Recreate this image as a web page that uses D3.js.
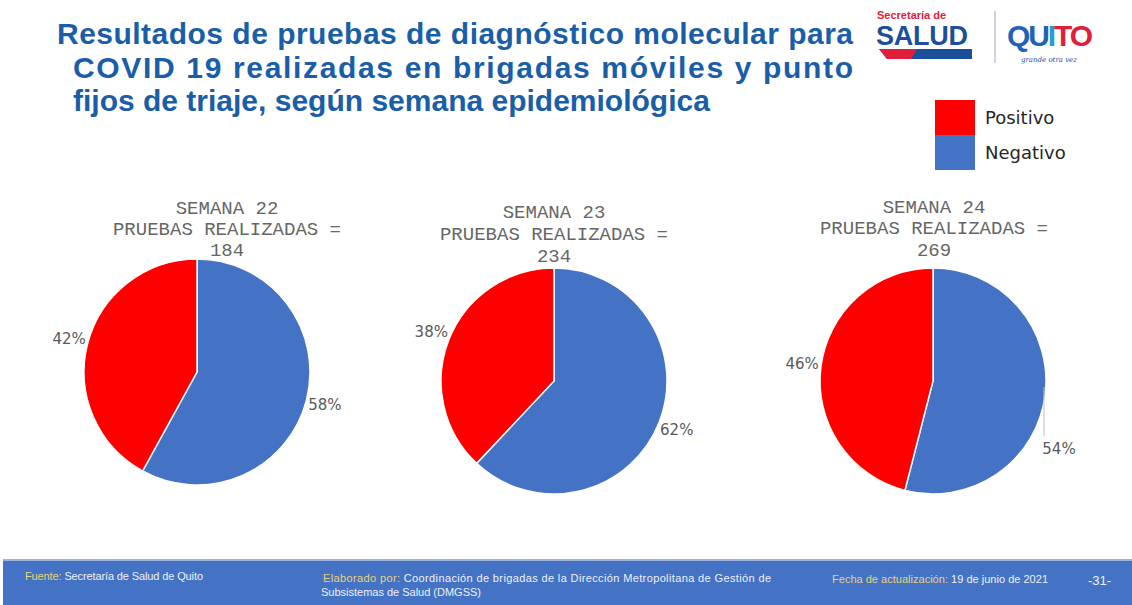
<!DOCTYPE html>
<html>
<head>
<meta charset="utf-8">
<script src="https://cdn.jsdelivr.net/npm/d3@7"></script>
<style>
  body { margin: 0; background: #fff; }
  svg { display: block; }
</style>
</head>
<body>
<div id="canvas"></div>
<script>
// datos
const semanas = ["SEMANA 22", "SEMANA 23", "SEMANA 24"];
const pruebas = [184, 234, 269];
const positivo = [42, 38, 46];
const negativo = [58, 62, 54];
const categorias = ["Negativo", "Positivo"];
const colores = ["#4472c4", "#ff0000"];

const width = 1132, height = 605;
const svg = d3.select("#canvas").append("svg")
  .attr("width", width)
  .attr("height", height);

// titulo
const titleColor = "#1a5ea8";
const titulo = [
  { t: "Resultados de pruebas de diagnóstico molecular para", x: 57, y: 44, w: 796 },
  { t: "COVID 19 realizadas en brigadas móviles y punto", x: 73, y: 78, w: 780 },
  { t: "fijos de triaje, según semana epidemiológica", x: 73, y: 111, w: null }
];
titulo.forEach(l => {
  const t = svg.append("text")
    .attr("x", l.x).attr("y", l.y)
    .style("font-family", "Liberation Sans, Arial, sans-serif")
    .style("font-weight", "bold")
    .style("font-size", "30px")
    .style("fill", titleColor)
    .text(l.t);
  if (l.w) t.attr("textLength", l.w).attr("lengthAdjust", "spacing");
});

// logo
const logo = svg.append("g").attr("transform", "translate(877,8)");
logo.append("text").attr("x", 0).attr("y", 11)
  .style("font-family", "Liberation Sans, Arial, sans-serif").style("font-weight", "bold")
  .style("font-size", "11px").style("fill", "#e0203a").text("Secretaría de");
logo.append("text").attr("x", -1).attr("y", 37)
  .style("font-family", "Liberation Sans, Arial, sans-serif").style("font-weight", "bold")
  .style("font-size", "27px").style("fill", "#1b4f9c").attr("textLength", 92).text("SALUD");
logo.append("path").attr("d", "M2,41 L95,41 L95,51 L10,51 Z").style("fill", "#1b4f9c");
logo.append("path").attr("d", "M2,41 L40,41 L34,51 L10,51 Z").style("fill", "#e0203a");
logo.append("line").attr("x1", 118).attr("x2", 118).attr("y1", 3).attr("y2", 55)
  .style("stroke", "#9aa8c0").style("stroke-width", 1);
logo.append("text").attr("x", 130).attr("y", 38)
  .style("font-family", "Liberation Sans, Arial, sans-serif").style("font-weight", "bold")
  .style("font-size", "30px").attr("textLength", 86)
  .selectAll("tspan").data([["QU", "#1e63b5"], ["I", "#2a9ad6"], ["T", "#e0203a"], ["O", "#e0203a"]])
  .join("tspan").style("fill", d => d[1]).text(d => d[0]);
logo.append("text").attr("x", 172).attr("y", 54)
  .style("font-family", "DejaVu Serif, serif").style("font-style", "italic")
  .style("font-size", "7px").style("fill", "#1b4f9c").attr("text-anchor", "middle").text("grande otra vez");

// leyenda
const legend = svg.append("g").attr("transform", "translate(935,100)");
const legItems = [categorias[1], categorias[0]];
const legCol = [colores[1], colores[0]];
legend.selectAll("rect").data(legItems).join("rect")
  .attr("x", 0).attr("y", (d, i) => i * 35)
  .attr("width", 40).attr("height", 35)
  .style("fill", (d, i) => legCol[i]);
legend.selectAll("text").data(legItems).join("text")
  .attr("x", 50).attr("y", (d, i) => i * 35 + 24)
  .style("font-family", "DejaVu Sans, sans-serif")
  .style("font-size", "18px").style("fill", "#262626")
  .text(d => d);

// pies
const radius = 113;
const centros = [[197, 372], [554, 381], [933, 381]];
const tituloY = [[214, 235, 256], [218, 240, 262], [213, 234, 256]];
const tituloX = [227, 554, 934];

const pie = d3.pie().sort(null).value(d => d.v);
const arc = d3.arc().innerRadius(0).outerRadius(radius);
const labelArc = d3.arc().innerRadius(132).outerRadius(132);

semanas.forEach((s, i) => {
  const datos = [
    { k: categorias[0], v: negativo[i] },
    { k: categorias[1], v: positivo[i] }
  ];
  const arcs = pie(datos);
  const g = svg.append("g").attr("transform", `translate(${centros[i][0]},${centros[i][1]})`);

  g.selectAll("path").data(arcs).join("path")
    .attr("d", arc)
    .style("fill", (d, j) => colores[j])
    .style("stroke", "#fff")
    .style("stroke-width", 1.5);

  arcs.forEach((d, j) => {
    let [lx, ly] = labelArc.centroid(d);
    // semana 24 negativo tiene línea guía
    if (i === 2 && j === 0) {
      g.append("line")
        .attr("x1", 111).attr("y1", 6)
        .attr("x2", 111).attr("y2", 55)
        .style("stroke", "#bfbfbf").style("stroke-width", 1);
      lx = 126; ly = 68;
    }
    g.append("text")
      .attr("x", lx).attr("y", ly + 5)
      .attr("text-anchor", "middle")
      .style("font-family", "DejaVu Sans, sans-serif")
      .style("font-size", "15px").style("fill", "#595959")
      .text(d.data.v + "%");
  });

  const lineas = [s, "PRUEBAS REALIZADAS =", String(pruebas[i])];
  lineas.forEach((l, k) => {
    svg.append("text")
      .attr("x", tituloX[i]).attr("y", tituloY[i][k])
      .attr("text-anchor", "middle")
      .style("font-family", "Liberation Mono, Courier New, monospace")
      .style("font-size", "19px").style("fill", "#666")
      .text(l);
  });
});

// pie de pagina
const foot = svg.append("g");
foot.append("rect").attr("x", 3).attr("y", 560).attr("width", width - 3).attr("height", 45).style("fill", "#4472c4");
foot.append("rect").attr("x", 3).attr("y", 559).attr("width", width - 3).attr("height", 2).style("fill", "#9db3de");

function footText(x, y, parts, len, size) {
  const t = foot.append("text").attr("x", x).attr("y", y)
    .style("font-family", "Liberation Sans, Arial, sans-serif")
    .style("font-size", (size || 11) + "px");
  if (len) t.attr("textLength", len).attr("lengthAdjust", "spacing");
  t.selectAll("tspan").data(parts).join("tspan")
    .style("fill", d => d[1] ? "#e6d37a" : "#eef1f8")
    .text(d => d[0]);
}
footText(25, 580, [["Fuente:", 1], [" Secretaría de Salud de Quito", 0]], 178);
footText(323, 582, [["Elaborado por:", 1], [" Coordinación de brigadas de la Dirección Metropolitana de Gestión de", 0]], 448);
footText(321, 596, [["Subsistemas de Salud (DMGSS)", 0]], 160);
footText(832, 583, [["Fecha de actualización:", 1], [" 19 de junio de 2021", 0]], 216);
footText(1088, 585, [["-31-", 0]], null, 13);
</script>
</body>
</html>
